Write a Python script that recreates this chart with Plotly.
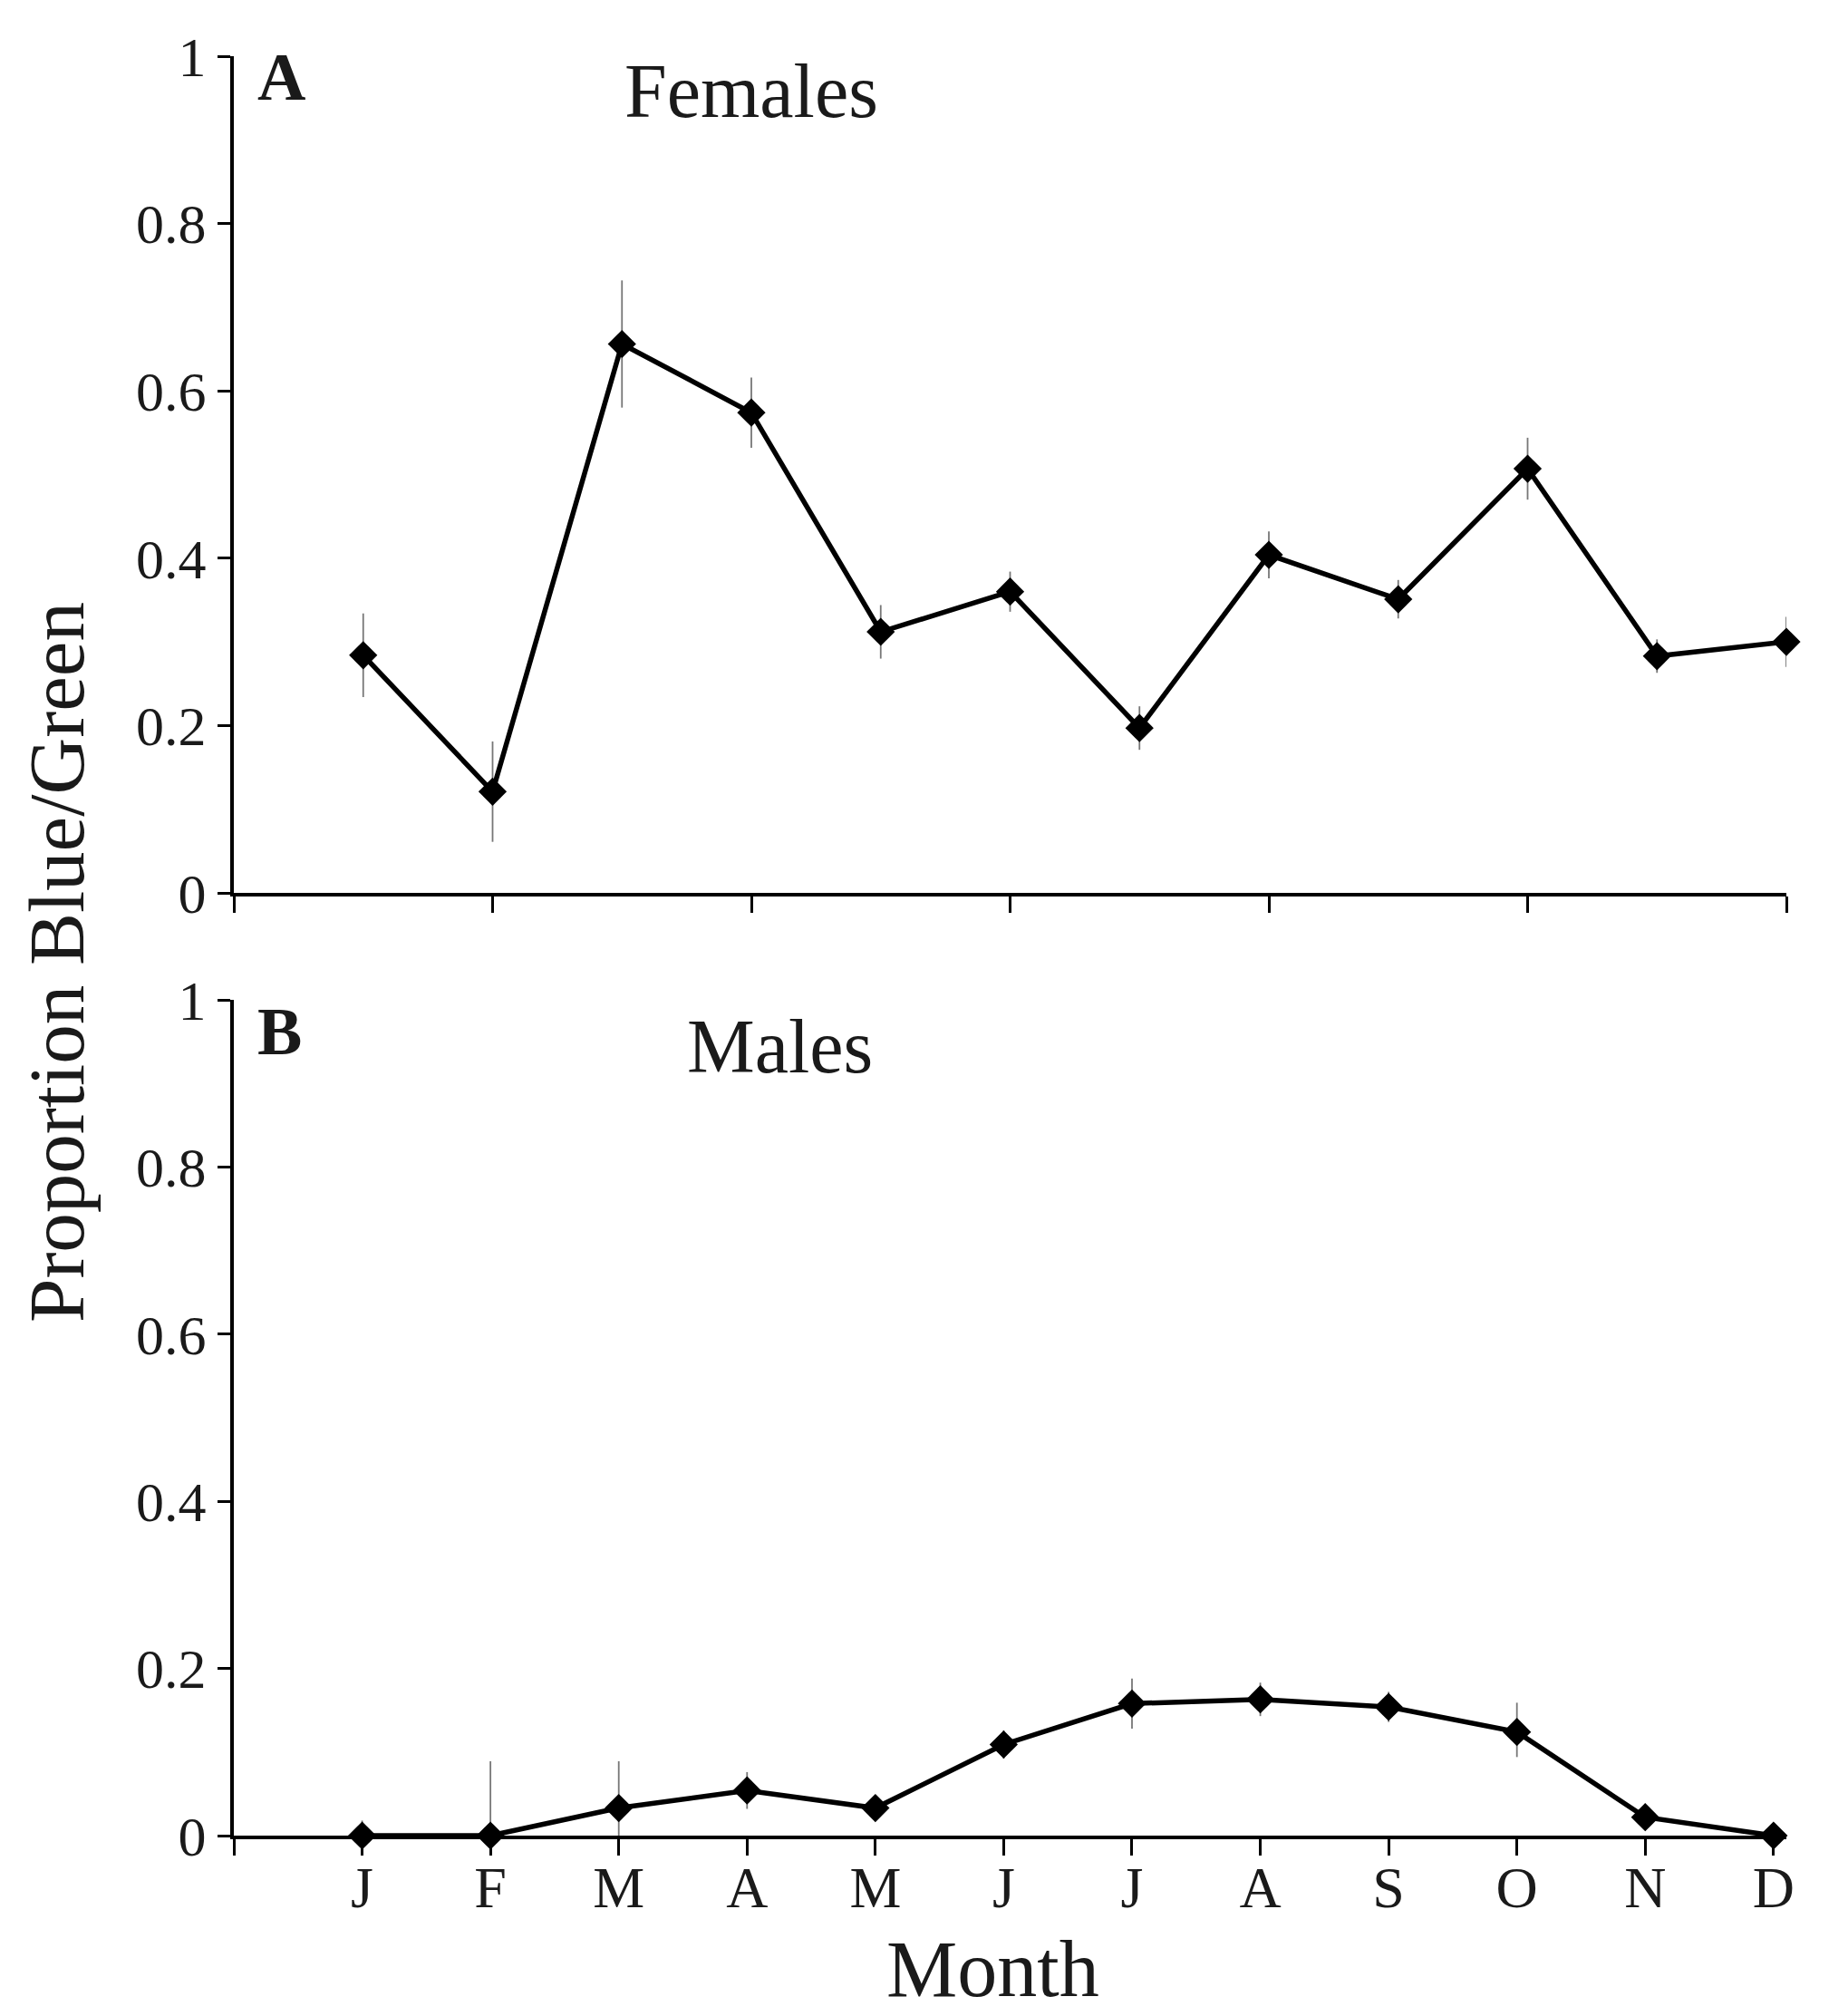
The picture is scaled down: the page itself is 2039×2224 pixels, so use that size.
import plotly.graph_objects as go

months = ["J", "F", "M", "A", "M", "J", "J", "A", "S", "O", "N", "D"]
month_pos = list(range(1, 13))

female_vals = [0.284, 0.121, 0.656, 0.574, 0.312, 0.360, 0.197, 0.404, 0.351, 0.507, 0.283, 0.300]
female_err = [0.050, 0.060, 0.076, 0.042, 0.032, 0.024, 0.026, 0.028, 0.023, 0.037, 0.020, 0.030]

male_vals = [0.0, 0.0, 0.033, 0.054, 0.033, 0.109, 0.158, 0.163, 0.154, 0.124, 0.022, 0.0]
male_err_plus = [0.018, 0.089, 0.056, 0.022, 0.012, 0.017, 0.030, 0.020, 0.018, 0.035, 0.010, 0.0]
male_err_minus = [0.0, 0.0, 0.033, 0.022, 0.012, 0.017, 0.030, 0.020, 0.018, 0.030, 0.010, 0.0]

y_ticks = [0, 0.2, 0.4, 0.6, 0.8, 1]
y_ticktext = ["0", "0.2", "0.4", "0.6", "0.8", "1"]

FONT = "Liberation Serif"
OFF = 8  # default page body margin
W, H = 2039 - OFF, 2224 - OFF
L, R, T, B = 258 - OFF, 68, 62 - OFF, 199

fig = go.Figure()

fig.add_trace(go.Scatter(
    x=month_pos, y=female_vals, mode="lines+markers",
    line=dict(color="black", width=5.5),
    marker=dict(symbol="diamond", size=24, color="black"),
    error_y=dict(type="data", array=female_err, color="#777777", thickness=1.8, width=0),
    xaxis="x", yaxis="y", cliponaxis=False, showlegend=False,
))
fig.add_trace(go.Scatter(
    x=month_pos, y=male_vals, mode="lines+markers",
    line=dict(color="black", width=5.5),
    marker=dict(symbol="diamond", size=24, color="black"),
    error_y=dict(type="data", symmetric=False, array=male_err_plus, arrayminus=male_err_minus,
                 color="#777777", thickness=1.8, width=0),
    xaxis="x2", yaxis="y2", cliponaxis=False, showlegend=False,
))

axis_common = dict(showgrid=False, zeroline=False, showline=True, linecolor="black",
                   linewidth=4, ticks="outside", tickcolor="black", tickwidth=3)

ph = H - T - B
# target pixel rows (in page coordinates)
def px_x(p):
    return (p - OFF - L) / (W - L - R)

def px_y(p):
    return (H - B - (p - OFF)) / ph

top_dom = [px_y(985), 1.0]
bot_dom = [0.0, px_y(1103)]

fig.update_layout(
    width=W, height=H,
    margin=dict(l=L, r=R, t=T, b=B),
    paper_bgcolor="white", plot_bgcolor="white",
    font=dict(family=FONT, color="#1a1a1a"),
    xaxis=dict(domain=[0, 1], anchor="y", range=[0, 12],
               tickvals=[0, 2, 4, 6, 8, 10, 12], showticklabels=False, ticklen=18, **axis_common),
    yaxis=dict(domain=top_dom, anchor="x", range=[0, 1],
               tickvals=y_ticks, ticktext=y_ticktext, ticklen=14,
               tickfont=dict(size=62, family=FONT, color="#1a1a1a"), **axis_common),
    xaxis2=dict(domain=[0, 1], anchor="y2", range=[0, 12.1],
                tickvals=[0] + month_pos, ticktext=[""] + months, ticklen=18,
                ticklabelstandoff=-20,
                tickfont=dict(size=64, family=FONT, color="#1a1a1a"), **axis_common),
    yaxis2=dict(domain=bot_dom, anchor="x2", range=[0, 1],
                tickvals=y_ticks, ticktext=y_ticktext, ticklen=14,
                tickfont=dict(size=62, family=FONT, color="#1a1a1a"), **axis_common),
)

annots = [
    dict(text="Females", x=px_x(829), y=px_y(101), size=84),
    dict(text="Males", x=px_x(860), y=px_y(1154), size=84),
    dict(text="<b>A</b>", x=px_x(310), y=px_y(85), size=74),
    dict(text="<b>B</b>", x=px_x(308), y=px_y(1138), size=74),
    dict(text="Month", x=px_x(1095), y=px_y(2172), size=88),
]
for a in annots:
    fig.add_annotation(text=a["text"], x=a["x"], y=a["y"], xref="paper", yref="paper",
                       xanchor="center", yanchor="middle", showarrow=False,
                       font=dict(size=a["size"], family=FONT, color="#1a1a1a"))

fig.add_annotation(text="Proportion Blue/Green", x=px_x(62), y=px_y(1062), xref="paper", yref="paper",
                   xanchor="center", yanchor="middle", showarrow=False, textangle=-90,
                   font=dict(size=87, family=FONT, color="#1a1a1a"))

fig.write_html("out.html")
